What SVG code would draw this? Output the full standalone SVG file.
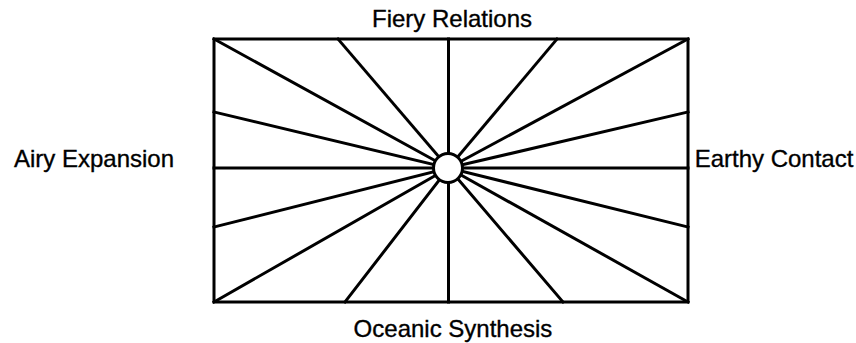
<svg xmlns="http://www.w3.org/2000/svg" width="856" height="343" viewBox="0 0 856 343">
<style>
.ln{stroke:#000;stroke-width:3;fill:none;stroke-linecap:square}
.lb{font-family:"Liberation Sans",Arial,sans-serif;font-size:24px;fill:#000;stroke:#000;stroke-width:0.35}
</style>
<rect width="856" height="343" fill="#fff"/>
<g id="connectors">
<line class="ln" x1="448.5" y1="168" x2="214" y2="39"/>
<line class="ln" x1="448.5" y1="168" x2="338" y2="39"/>
<line class="ln" x1="448.5" y1="168" x2="448.5" y2="39"/>
<line class="ln" x1="448.5" y1="168" x2="557" y2="39"/>
<line class="ln" x1="448.5" y1="168" x2="688" y2="39"/>
<line class="ln" x1="448.5" y1="168" x2="214" y2="112"/>
<line class="ln" x1="448.5" y1="168" x2="214" y2="168"/>
<line class="ln" x1="448.5" y1="168" x2="214" y2="227"/>
<line class="ln" x1="448.5" y1="168" x2="214" y2="302"/>
<line class="ln" x1="448.5" y1="168" x2="345" y2="302"/>
<line class="ln" x1="448.5" y1="168" x2="448.5" y2="302"/>
<line class="ln" x1="448.5" y1="168" x2="563" y2="302"/>
<line class="ln" x1="448.5" y1="168" x2="688" y2="302"/>
<line class="ln" x1="448.5" y1="168" x2="688" y2="112"/>
<line class="ln" x1="448.5" y1="168" x2="688" y2="168"/>
<line class="ln" x1="448.5" y1="168" x2="688" y2="227"/>
</g>
<g id="frame">
<rect class="ln" x="214" y="39" width="474" height="263"/>
</g>
<g id="center">
<circle cx="448" cy="168" r="14.5" fill="#fff" stroke="#000" stroke-width="3"/>
</g>
<g id="fiery"><text class="lb" x="452" y="27" text-anchor="middle">Fiery Relations</text></g>
<g id="airy"><text class="lb" x="94" y="167" text-anchor="middle">Airy Expansion</text></g>
<g id="earthy"><text class="lb" x="774" y="167" text-anchor="middle">Earthy Contact</text></g>
<g id="oceanic"><text class="lb" x="453" y="337" text-anchor="middle">Oceanic Synthesis</text></g>
</svg>
